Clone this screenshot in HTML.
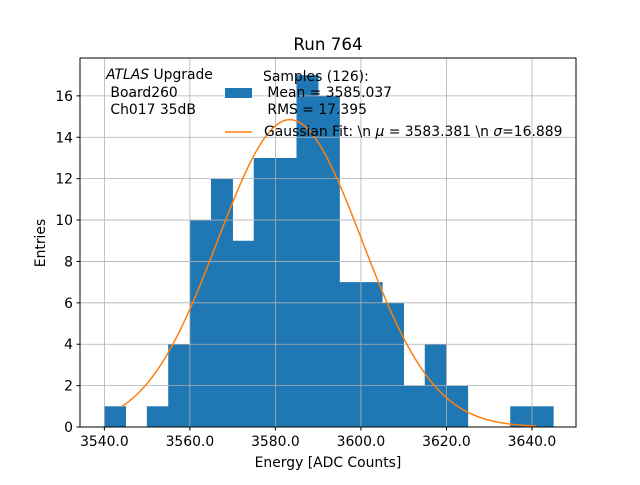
<!DOCTYPE html>
<html><head><meta charset="utf-8"><style>
body{margin:0;background:#fff}
svg text{font-family:"DejaVu Sans","Liberation Sans",sans-serif;fill:#000;white-space:pre}
</style></head><body>
<svg id="c" width="640" height="480" xmlns="http://www.w3.org/2000/svg">
<rect width="640" height="480" fill="#fff"/>
<g id="bars"></g>
<g id="grid"></g>
<g id="fit"></g>
<rect x="80" y="58" width="496" height="369" fill="none" stroke="#000" stroke-width="1"/>
<g id="ticks"></g>
<text x="328" y="50" font-size="16.7" text-anchor="middle">Run 764</text>
<text x="328" y="467" font-size="13.9" text-anchor="middle">Energy [ADC Counts]</text>
<text transform="translate(45,243) rotate(-90)" font-size="13.9" text-anchor="middle">Entries</text>
<g font-size="13.9">
<text x="106" y="79" xml:space="preserve"><tspan font-style="italic">ATLAS</tspan> Upgrade</text>
<text x="106" y="97" xml:space="preserve"> Board260</text>
<text x="106" y="114" xml:space="preserve"> Ch017 35dB</text>
</g>
<g font-size="13.9">
<rect x="225" y="88" width="27" height="10" fill="#1f77b4"/>
<text x="263" y="81" xml:space="preserve">Samples (126):</text>
<text x="263" y="97" xml:space="preserve"> Mean = 3585.037</text>
<text x="263" y="114" xml:space="preserve"> RMS = 17.395</text>
<line x1="225" y1="132" x2="252" y2="132" stroke="#ff7f0e" stroke-width="1.5"/>
<text x="264" y="136" xml:space="preserve">Gaussian Fit: \n <tspan font-style="italic">μ</tspan> = 3583.381 \n <tspan font-style="italic">σ</tspan>=16.889</text>
</g>
</svg>
<script>
const binEdges=[3540,3545,3550,3555,3560,3565,3570,3575,3580,3585,3590,3595,3600,3605,3610,3615,3620,3625,3630,3635,3640,3645];
const counts=[1,0,1,4,10,12,9,13,13,17,16,7,7,6,2,4,2,0,0,1,1];
const xTicks=[3540,3560,3580,3600,3620,3640];
const yTicks=[0,2,4,6,8,10,12,14,16];
const fitMu=3583.381, fitSigma=16.889, fitAmp=14.85, fitRange=[3544,3641];
const NS='http://www.w3.org/2000/svg';
const X0=80,X1=576,Y0=427,Y1=58;
const xMin=3534.3,xMax=3650.3,yMin=0,yMax=17.83;
const sx=v=>X0+(v-xMin)/(xMax-xMin)*(X1-X0);
const sy=v=>Y0-(v-yMin)/(yMax-yMin)*(Y0-Y1);
function mk(t,a,p){const e=document.createElementNS(NS,t);for(const k in a)e.setAttribute(k,a[k]);p.appendChild(e);return e;}
const bars=document.getElementById('bars');
counts.forEach((c,i)=>{if(!c)return;
 const e=mk('rect',{x:sx(binEdges[i])-0.3,y:sy(c),width:sx(binEdges[i+1])-sx(binEdges[i])+0.6,height:sy(0)-sy(c),fill:'#1f77b4'},bars);
 
 });
const grid=document.getElementById('grid'),ticks=document.getElementById('ticks');
xTicks.forEach(t=>{const x=sx(t);
 const g=mk('line',{x1:x,x2:x,y1:Y1,y2:Y0,stroke:'#b0b0b0','stroke-width':0.8},grid);
 
 mk('line',{x1:x,x2:x,y1:Y0,y2:Y0+3.5,stroke:'#000'},ticks);
 const l=mk('text',{x:x,y:Y0+19,'font-size':13.9,'text-anchor':'middle'},ticks);l.textContent=t.toFixed(1);
 });
yTicks.forEach(t=>{const y=sy(t);
 const g=mk('line',{x1:X0,x2:X1,y1:y,y2:y,stroke:'#b0b0b0','stroke-width':0.8},grid);
 
 mk('line',{x1:X0-3.5,x2:X0,y1:y,y2:y,stroke:'#000'},ticks);
 const l=mk('text',{x:X0-7,y:y+5,'font-size':13.9,'text-anchor':'end'},ticks);l.textContent=t;
 });
let d='';for(let i=0;i<=200;i++){const v=fitRange[0]+(fitRange[1]-fitRange[0])*i/200;
 const f=fitAmp*Math.exp(-0.5*((v-fitMu)/fitSigma)**2);d+=(i?'L':'M')+sx(v).toFixed(2)+','+sy(f).toFixed(2);}
const p=mk('path',{d:d,fill:'none',stroke:'#ff7f0e','stroke-width':1.5},document.getElementById('fit'));

</script>
</body></html>
